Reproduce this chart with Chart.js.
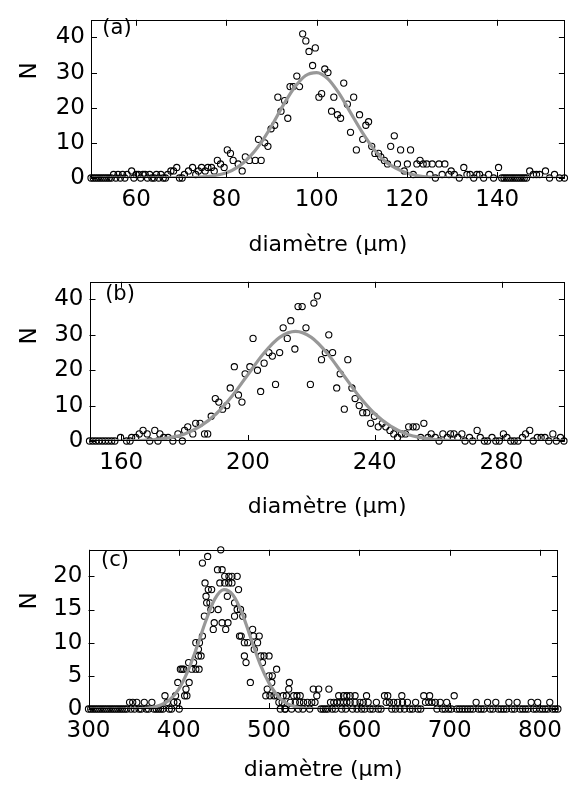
<!DOCTYPE html>
<html><head><meta charset="utf-8">
<script src="https://cdn.jsdelivr.net/npm/chart.js@4.4.1/dist/chart.umd.min.js"></script>
<style>
html,body{margin:0;padding:0;background:#fff;width:570px;height:794px;overflow:hidden}
canvas{position:absolute;left:0}
</style></head><body>
<canvas id="ca" width="570" height="262" style="top:0px"></canvas>
<canvas id="cb" width="570" height="268" style="top:262px"></canvas>
<canvas id="cc" width="570" height="264" style="top:530px"></canvas>
<script>
// ---------- panel (a) ----------
const diamA = [50,50.5,51,51.5,52,52.5,53,53.5,54,54.5,55,55.5,56,56.5,57,57.5,58,59,59.5,60,60.5,61,61.5,62,62.5,63,63.5,64,64.5,65,65.5,66,66.5,67,67.7,68.3,69,69.6,70.2,70.7,71.6,72.5,73.2,73.8,74.5,75.3,75.9,76.7,77.3,78,78.7,79.5,80.2,80.9,81.5,82.6,83.5,84.2,85.1,86.4,87.1,87.7,88.5,89.2,89.9,90.7,91.4,92.1,92.9,93.6,94.1,94.8,95.6,96.2,96.9,97.6,98.3,99.1,99.7,100.5,101.1,101.8,102.5,103.3,103.8,104.6,105.3,106,106.8,107.5,108.2,108.8,109.5,110.2,110.9,111.5,112.2,112.9,113.7,114.2,115,115.7,116.4,117.2,117.9,118.6,119.4,120.1,120.8,121.4,122.2,122.9,123.6,124.4,125.1,125.6,126.3,127.1,127.8,128.4,129.3,129.8,130.5,131.6,132.6,133.3,134,134.8,135.5,136.1,137,138.1,139.2,140.3,141,141.5,142,142.5,143,143.5,144,144.5,145,145.5,146,146.5,147.2,148,148.7,149.4,150.7,151.6,152.7,153.8,154.9];
const countA = [0,0,0,0,0,0,0,0,0,0,1,0,1,0,1,0,1,2,0,1,1,0,1,1,0,1,0,0,1,0,1,0,0,1,2,2,3,0,0,1,2,3,1,2,3,2,3,3,2,5,4,3,8,7,5,4,2,6,5,5,11,5,10,9,14,15,23,19,22,17,26,26,29,26,41,39,36,32,37,23,24,31,30,19,23,18,17,27,21,13,23,8,18,11,15,16,9,7,7,6,5,4,9,12,4,8,2,4,8,1,4,5,4,4,1,4,0,4,1,4,1,2,1,0,3,1,1,0,1,1,0,1,0,3,0,0,0,0,0,0,0,0,0,0,0,0,2,1,1,1,2,0,1,0,0];
const fitXA = [50,60,70,75,80,82.5,85,87.5,90,92.5,95,97.5,100,102.5,105,107.5,110,112.5,115,117.5,120,122.5,125,130,140,155];
const fitYA = [0,0,0.03,0.3,1.5,3.1,5.8,9.7,14.8,20.5,25.6,29.1,30,28.2,24,18.6,13.2,8.5,4.9,2.8,1.4,0.6,0.25,0.03,0,0];
const ticksXA = [60,80,100,120,140];
const ticksYA = [0,10,20,30,40];

// ---------- panel (b) ----------
const diamB = [150,151,152,153,154,155,156,157,158,159.8,161.7,162.8,163.3,164.6,165.7,166.9,168.2,169,170.6,171.6,172.2,173.4,174.8,176.3,177.9,179.3,180,181,182.6,183.5,184.9,186.3,187.3,188.4,189.7,190.8,192,193.3,194.4,195.7,197,198.1,199.1,200.6,201.6,203,204,205.1,206.6,207.7,208.7,210,211.1,212.4,213.5,214.8,215.8,217.1,218.3,219.7,220.8,221.9,223.2,224.4,225.5,226.7,228,229.1,230.4,231.5,232.8,233.8,235.1,236.2,237.5,238.7,239.9,241.1,242.4,243.5,244.8,246,247.2,248.4,249.7,250.7,252.1,253.1,254.5,255.5,256.8,257.8,259.1,260.3,261.5,262.9,263.9,265,266.2,267.5,268.5,269.9,270.9,272.3,273.3,274.6,275.6,277,278.2,279.3,280.6,281.7,282.9,284,285.2,286.6,287.6,288.9,290,291.3,292.5,293.7,294.9,296.2,297.3,298.6,299.7];
const countB = [0,0,0,0,0,0,0,0,0,1,0,0,1,1,2,3,2,0,3,0,2,1,1,0,2,0,3,4,2,5,5,2,2,7,12,11,9,10,15,21,13,11,19,21,29,20,14,22,25,24,16,25,32,29,34,26,38,38,32,16,39,41,23,25,30,25,15,19,9,23,15,12,10,8,8,5,7,4,5,4,3,2,1,2,2,4,4,4,1,5,1,2,1,0,2,1,2,2,1,2,0,1,0,3,1,0,0,1,0,0,2,1,0,0,0,1,2,3,0,1,1,1,0,2,0,1,0];
const fitXB = [150,160,170,175,180,185,190,195,200,205,210,215,220,225,230,235,240,245,250,255,260,270,280,300];
const fitYB = [0,0.04,0.35,0.9,2,4.2,7.7,12.7,18.8,24.8,29.3,31,29.3,24.8,18.8,12.7,7.7,4.2,2,0.9,0.35,0.04,0,0];
const ticksXB = [160,200,240,280];
const ticksYB = [0,10,20,30,40];

// ---------- panel (c) ----------
const diamC = [300,302.5,305,307.5,310,312.5,315,317.5,320,322.5,325,327.5,330,332.5,335,337.5,340,342.5,345.5,347,349,351,353.5,356,358.5,361.8,364,366.5,370.2,372.5,375,377.5,380,382.5,384.7,387.3,389.5,392,394.5,396.4,398.5,398.9,400.5,401.8,403.6,405.5,406.5,408,409,410.9,411.5,414.5,416.4,418.9,418.9,421.8,421.8,422.5,422.9,424.7,426.2,426.2,428.4,429.1,430.2,430.9,432,432.7,434.5,435.6,436.4,438.2,439.3,442.9,443.6,445.5,446.5,448,448,450.9,450.9,452,453.8,454.5,455.6,455.3,458.9,458.9,461.8,461.8,464.7,464.7,466.2,467.3,468.4,469.1,470.9,472.7,472.7,474.5,476.4,479.3,481.8,482.9,483.6,487.3,489.1,490.9,492.7,494.5,496.4,498,500,500,501,503,503.6,505.5,508.4,509,510.9,512.5,514.5,515.6,517.5,518.2,519.3,521.8,522.5,523.6,525,527.3,529.1,530.9,532.5,534,534.5,537.5,538.2,542.5,545,547.3,549,550.9,552.9,555,557.5,560,562.5,565,566.3,568.1,570,571.7,573.5,575.4,577.2,579,580.5,582.6,582.6,585,586.2,586.2,589.9,589.9,592.5,595.3,595.3,597.5,600.8,602.5,604.4,606,608,609.8,612,615,618.9,621,624,627.9,629.8,631.5,633.4,636,638.1,640,642.4,645,647.1,647.9,650,653.3,656,659,662.4,665,668,671.4,673.3,676.9,677.9,680.5,684.2,686,689.6,692,695,696.8,699,702,705.1,708,711,714,717,720,723,726,729.4,732,735,738,742.1,745,748,751.2,754,757,760,763,765.7,769,772,774.8,778,781,784,787,790.4,793,796,797.6,800,803,806,809,811,814,817,820];
const countC = [0,0,0,0,0,0,0,0,0,0,0,0,0,0,0,0,0,0,1,0,1,0,1,0,0,1,0,0,1,0,0,0,0,0,2,1,0,0,1,2,1,4,0,6,6,6,2,3,2,7,4,6,7,6,10,8,9,6,10,8,11,22,14,19,17,16,23,18,16,15,18,12,13,21,15,19,24,21,13,20,19,12,17,13,20,19,20,19,16,14,20,15,18,11,15,11,14,10,8,7,10,4,12,11,9,10,11,8,7,8,2,3,8,5,2,4,5,2,6,2,1,0,1,2,0,0,2,3,4,1,0,2,1,2,0,1,2,0,1,1,0,1,3,1,2,3,0,0,0,0,3,1,0,1,0,1,2,1,0,1,2,0,1,2,1,2,0,1,2,0,1,0,1,0,2,1,0,0,1,0,0,2,1,2,1,0,1,0,1,0,2,1,0,1,0,0,1,0,0,2,1,1,2,1,1,0,1,0,0,1,0,0,2,0,0,0,0,0,0,0,1,0,0,0,1,0,0,1,0,0,0,0,1,0,0,1,0,0,0,0,1,0,0,1,0,0,0,0,1,0,0,0];
const fitXC = [300,340,360,370,380,390,400,410,420,430,440,450,460,470,480,490,500,510,520,530,540,560,820];
const fitYC = [0,0,0.05,0.2,0.6,1.4,3,5.7,9.3,13.3,16.6,18,17.2,14.5,10.6,6.8,3.9,1.9,0.8,0.3,0.1,0,0];
const ticksXC = [300,400,500,600,700,800];
const ticksYC = [0,5,10,15,20];

const xTitle = 'diamètre (µm)';
const yTitle = 'N';
const FONT = '"DejaVu Sans", "Liberation Sans", sans-serif';

const deco = {
  id: 'deco',
  afterDraw(chart, args, o) {
    const {ctx, chartArea: a, scales: {x, y}} = chart;
    ctx.save();
    ctx.strokeStyle = '#000';
    ctx.lineWidth = 1;
    ctx.strokeRect(Math.round(a.left) + 0.5, Math.round(a.top) + 0.5,
      Math.round(a.right) - Math.round(a.left) - 1, Math.round(a.bottom) - Math.round(a.top) - 1);
    const L = 6;
    ctx.beginPath();
    x.ticks.forEach(t => {
      const px = Math.round(x.getPixelForValue(t.value)) + 0.5;
      ctx.moveTo(px, a.bottom); ctx.lineTo(px, a.bottom - L);
      ctx.moveTo(px, a.top); ctx.lineTo(px, a.top + L);
    });
    y.ticks.forEach(t => {
      const py = Math.round(y.getPixelForValue(t.value)) + 0.5;
      ctx.moveTo(a.left, py); ctx.lineTo(a.left + L, py);
      ctx.moveTo(a.right, py); ctx.lineTo(a.right - L, py);
    });
    ctx.stroke();
    ctx.fillStyle = '#000';
    ctx.textAlign = 'center';
    ctx.textBaseline = 'middle';
    ctx.font = '21px ' + FONT;
    ctx.fillText(o.tag, o.tagX, o.tagY);
    ctx.translate(o.nX, o.nY);
    ctx.rotate(-Math.PI / 2);
    ctx.font = '23px ' + FONT;
    ctx.fillText(yTitle, 0, 0);
    ctx.restore();
  }
};

function makePanel(id, p) {
  const canvas = document.getElementById(id);
  const H = canvas.height;
  new Chart(canvas, {
    type: 'scatter',
    data: {
      datasets: [
        {
          type: 'line',
          data: p.fitX.map((v, i) => ({x: v, y: p.fitY[i]})),
          borderColor: '#989898',
          borderWidth: 3.2,
          pointRadius: 0,
          cubicInterpolationMode: 'monotone',
          fill: false,
          order: 0
        },
        {
          data: p.xs.map((v, i) => ({x: v, y: p.ys[i]})),
          pointStyle: 'circle',
          pointRadius: 3.1,
          borderWidth: 1.1,
          borderColor: '#000',
          backgroundColor: 'rgba(255,255,255,0)',
          clip: false,
          order: 1
        }
      ]
    },
    options: {
      responsive: false,
      animation: false,
      events: [],
      layout: {padding: {top: 5, right: p.right, left: 0, bottom: 0}},
      plugins: {
        legend: {display: false},
        tooltip: {enabled: false},
        deco: {tag: p.tag, tagX: p.tagX, tagY: p.tagY, nX: 30, nY: p.nY}
      },
      scales: {
        x: {
          type: 'linear',
          min: p.xmin, max: p.xmax,
          grid: {display: false, drawTicks: false},
          border: {display: false},
          afterBuildTicks: s => { s.ticks = p.tx.map(v => ({value: v})); },
          afterFit: s => { s.height = H - p.bottom; },
          ticks: {color: '#000', font: {family: FONT, size: 23}, padding: 8, maxRotation: 0, autoSkip: false},
          title: {display: true, text: xTitle, color: '#000', font: {family: FONT, size: 22}, padding: {top: 0, bottom: p.titlePad}}
        },
        y: {
          type: 'linear',
          min: 0, max: p.ymax,
          grid: {display: false, drawTicks: false},
          border: {display: false},
          afterBuildTicks: s => { s.ticks = p.ty.map(v => ({value: v})); },
          afterFit: s => { s.width = p.left; },
          ticks: {color: '#000', font: {family: FONT, size: 23}, padding: 6}
        }
      }
    },
    plugins: [deco]
  });
}

makePanel('ca', {xs: diamA, ys: countA, fitX: fitXA, fitY: fitYA, tx: ticksXA, ty: ticksYA,
  xmin: 50, xmax: 155, ymax: 45, left: 91, right: 2, bottom: 178, titlePad: 4, tag: '(a)', tagX: 117, tagY: 29, nY: 71});
makePanel('cb', {xs: diamB, ys: countB, fitX: fitXB, fitY: fitYB, tx: ticksXB, ty: ticksYB,
  xmin: 150, xmax: 300, ymax: 45, left: 89.5, right: 2, bottom: 179, titlePad: 10, tag: '(b)', tagX: 120, tagY: 33, nY: 74});
makePanel('cc', {xs: diamC, ys: countC, fitX: fitXC, fitY: fitYC, tx: ticksXC, ty: ticksYC,
  xmin: 300, xmax: 820, ymax: 24, left: 88.5, right: 3, bottom: 179, titlePad: 11, tag: '(c)', tagX: 115, tagY: 31, nY: 71});
</script>
</body></html>
